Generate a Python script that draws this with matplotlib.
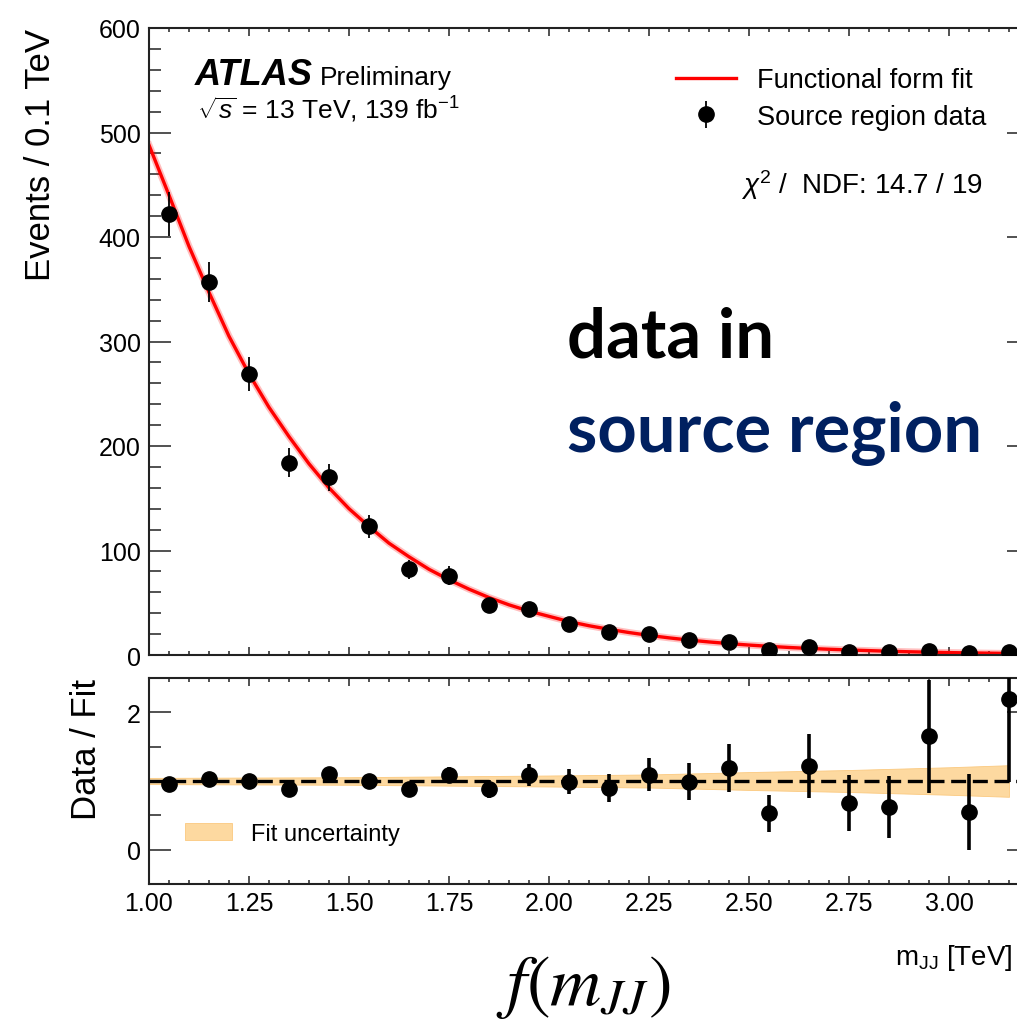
import numpy as np
import matplotlib.pyplot as plt
from matplotlib.ticker import MultipleLocator, FixedLocator, FormatStrFormatter

plt.rcParams['font.family'] = ['Liberation Sans', 'DejaVu Sans']
plt.rcParams['mathtext.fontset'] = 'custom'
plt.rcParams['mathtext.rm'] = 'Liberation Sans'
plt.rcParams['mathtext.it'] = 'Liberation Sans:italic'
plt.rcParams['mathtext.bf'] = 'Liberation Sans:bold'

# bin centres [TeV]
mjj = [1.05, 1.15, 1.25, 1.35, 1.45, 1.55, 1.65, 1.75, 1.85, 1.95, 2.05,
       2.15, 2.25, 2.35, 2.45, 2.55, 2.65, 2.75, 2.85, 2.95, 3.05, 3.15]

# source region data (events / 0.1 TeV)
events = [422, 357, 269, 184, 170, 123, 82, 76, 48, 44, 30,
          22, 20, 14, 12, 5, 8, 3, 3, 4, 2, 3]
events_err = [21, 19, 16, 14, 13, 11, 9, 9, 7, 7, 5.5,
              4.7, 4.5, 3.7, 3.5, 2.2, 2.8, 1.7, 1.7, 2.0, 1.4, 1.7]

# data / fit
ratio = [0.96, 1.03, 1.00, 0.88, 1.10, 1.00, 0.88, 1.09, 0.88, 1.09, 0.99,
         0.90, 1.09, 0.99, 1.19, 0.53, 1.22, 0.68, 0.62, 1.65, 0.55, 2.20]
ratio_err = [0.05, 0.055, 0.06, 0.065, 0.08, 0.09, 0.10, 0.12, 0.13, 0.16, 0.18,
             0.20, 0.24, 0.27, 0.35, 0.27, 0.47, 0.41, 0.45, 0.82, 0.55, 1.22]

# functional form fit
fit_x = [1.00, 1.05, 1.10, 1.15, 1.20, 1.25, 1.30, 1.35, 1.40, 1.45, 1.50,
         1.55, 1.60, 1.65, 1.70, 1.75, 1.80, 1.85, 1.90, 1.95, 2.00, 2.05,
         2.10, 2.15, 2.20, 2.25, 2.30, 2.35, 2.40, 2.45, 2.50, 2.55, 2.60,
         2.65, 2.70, 2.75, 2.80, 2.85, 2.90, 2.95, 3.00, 3.05, 3.10, 3.15, 3.20]
fit_y = [488, 440, 391, 347, 305, 269, 237, 209, 183, 160, 140,
         123, 107, 94, 82, 72, 63, 55, 48, 42, 37, 32,
         28, 24.6, 21.5, 18.8, 16.4, 14.3, 12.5, 10.9, 9.5, 8.3, 7.2,
         6.3, 5.5, 4.8, 4.2, 3.6, 3.1, 2.7, 2.3, 2.0, 1.75, 1.5, 1.3]

# fit uncertainty band in the ratio panel
band_x = [1.00, 1.50, 2.00, 2.25, 2.50, 2.75, 3.00, 3.15]
band_lo = [0.955, 0.945, 0.92, 0.905, 0.87, 0.84, 0.80, 0.77]
band_hi = [1.045, 1.055, 1.08, 1.095, 1.13, 1.16, 1.20, 1.23]

W, H = 1017, 1020
fig = plt.figure(figsize=(W / 100, H / 100), dpi=100)

# main panel
ax1 = fig.add_axes([149 / W, 1 - 656 / H, 880 / W, 627 / H])
ax1.plot(fit_x, fit_y, color='red', lw=5, alpha=0.25, zorder=2)
ax1.plot(fit_x, fit_y, color='red', lw=2.4, zorder=2, label='Functional form fit')
ax1.errorbar(mjj, events, yerr=events_err, fmt='o', color='black', ms=11,
             elinewidth=1.3, capsize=0, zorder=3, label='Source region data')
ax1.set_xlim(1.0, 3.2)
ax1.set_ylim(0, 600)
ax1.xaxis.set_major_locator(MultipleLocator(0.25))
ax1.xaxis.set_minor_locator(MultipleLocator(0.05))
ax1.yaxis.set_major_locator(MultipleLocator(100))
ax1.yaxis.set_minor_locator(MultipleLocator(20))
ax1.tick_params(which='both', direction='in', top=True, right=True,
                labelbottom=False, width=1.1, color='#222222')
ax1.tick_params(axis='y', which='major', length=16, labelsize=18, pad=6)
ax1.tick_params(axis='y', which='minor', length=8.5)
ax1.tick_params(axis='x', which='major', length=6)
ax1.tick_params(axis='x', which='minor', length=3)
ax1.set_ylabel('Events / 0.1 TeV', fontsize=25, loc='top')
ax1.yaxis.set_label_coords(-0.104, 1.0)
ax1.legend(loc='upper left', bbox_to_anchor=(676 / W, 1 - 68 / H),
           bbox_transform=fig.transFigure, frameon=False, fontsize=19.5,
           handlelength=2.2, handletextpad=0.8, labelspacing=0.4,
           borderpad=0, borderaxespad=0)

# ratio panel
ax2 = fig.add_axes([149 / W, 1 - 885 / H, 880 / W, 206 / H])
ax2.fill_between(band_x, band_lo, band_hi, facecolor='#fdd9a0',
                 edgecolor='#fbc97f', lw=0.6, zorder=1, label='Fit uncertainty')
ax2.axhline(1.0, color='black', lw=2.4, ls=(0, (4.5, 2)), zorder=2)
ax2.errorbar(mjj, ratio, yerr=ratio_err, fmt='o', color='black', ms=11,
             elinewidth=2.6, capsize=0, zorder=3)
ax2.set_xlim(1.0, 3.2)
ax2.set_ylim(-0.5, 2.5)
ax2.xaxis.set_major_locator(MultipleLocator(0.25))
ax2.xaxis.set_minor_locator(MultipleLocator(0.05))
ax2.xaxis.set_major_formatter(FormatStrFormatter('%.2f'))
ax2.yaxis.set_major_locator(FixedLocator([0, 2]))
ax2.yaxis.set_minor_locator(MultipleLocator(0.5))
ax2.tick_params(which='both', direction='in', top=True, right=True,
                width=1.1, color='#222222')
ax2.tick_params(axis='y', which='major', length=16, labelsize=18, pad=6)
ax2.tick_params(axis='y', which='minor', length=8.5)
ax2.tick_params(axis='x', which='major', length=6, labelsize=18, pad=5)
ax2.tick_params(axis='x', which='minor', length=3)
ax2.set_ylabel('Data / Fit', fontsize=25, loc='top')
ax2.yaxis.set_label_coords(-0.052, 1.0)
ax2.legend(loc='center left', bbox_to_anchor=(185 / W, 1 - 835 / H),
           bbox_transform=fig.transFigure, frameon=False, fontsize=17,
           handlelength=2.0, handleheight=0.7, handletextpad=0.8,
           borderpad=0, borderaxespad=0)

# x axis title, kept inside the picture
fig.text(1013 / W, 1 - 958 / H, 'm$_{\\rm JJ}$ [TeV]', fontsize=20,
         ha='right', va='center')

for ax in (ax1, ax2):
    for sp in ax.spines.values():
        sp.set_linewidth(1.5)
        sp.set_color('#222222')

# ATLAS labels
fig.text(195 / W, 1 - 85 / H, 'ATLAS', fontsize=26, fontweight='bold',
         fontstyle='italic', va='baseline')
fig.text(320 / W, 1 - 85 / H, 'Preliminary', fontsize=19, va='baseline')
fig.text(197 / W, 1 - 119 / H, r'$\sqrt{s}$ = 13 TeV, 139 fb$^{-1}$',
         fontsize=19, va='baseline')
fig.text(983 / W, 1 - 185 / H, r'$\chi^2$ /  NDF: 14.7 / 19', fontsize=20,
         ha='right', va='center')

# slide annotations
fig.text(567 / W, 1 - 358 / H, 'data in', fontsize=49.5, fontweight='bold',
         family='Lato', va='baseline', color='black')
fig.text(567 / W, 1 - 452 / H, 'source region', fontsize=49.5, fontweight='bold',
         family='Lato', va='baseline', color='#002060')
fig.text(583 / W, 1 - 988 / H, r'$f(m_{JJ})$', fontsize=51,
         math_fontfamily='stix', ha='center', va='center')

fig.savefig('out.png', dpi=100)
